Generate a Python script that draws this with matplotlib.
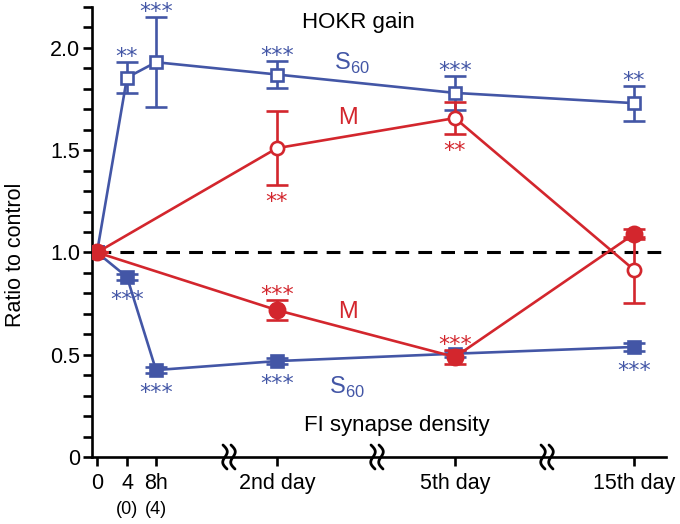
import numpy as np
import matplotlib
matplotlib.use("Agg")
import matplotlib.pyplot as plt

plt.rcParams['font.family'] = ['Liberation Sans', 'DejaVu Sans']

# ── data ────────────────────────────────────────────────────────────
tick_labels = ["0", "4", "8h", "2nd day", "5th day", "15th day"]
sub_labels = ["", "(0)", "(4)", "", "", ""]
x_pos = [0, 30, 59, 180, 358, 537]          # compressed time axis
breaks = [132, 280, 450]

# HOKR gain (open markers)
s60_gain_idx = [0, 1, 2, 3, 4, 5]
s60_gain = [1.0, 1.855, 1.93, 1.87, 1.78, 1.73]
s60_gain_err = [0, 0.075, 0.22, 0.065, 0.083, 0.085]
s60_gain_sig = ["", "**", "***", "***", "***", "**"]

m_gain_idx = [0, 3, 4, 5]
m_gain = [1.0, 1.51, 1.657, 0.915]
m_gain_err = [0, 0.18, 0.08, 0.16]
m_gain_sig = ["", "**", "**", ""]

# FI synapse density (filled markers)
s60_fi_idx = [0, 1, 2, 3, 4, 5]
s60_fi = [1.0, 0.88, 0.425, 0.469, 0.505, 0.538]
s60_fi_err = [0, 0.015, 0.015, 0.015, 0.015, 0.02]
s60_fi_sig = ["", "***", "***", "***", "", "***"]

m_fi_idx = [0, 3, 4, 5]
m_fi = [1.0, 0.718, 0.489, 1.09]
m_fi_err = [0, 0.05, 0.035, 0.025]
m_fi_sig = ["", "***", "***", ""]

BLUE = "#4356a6"
RED = "#d3262d"

fig = plt.figure(figsize=(6.8, 5.24), dpi=100)
ax = fig.add_axes([92 / 680, 67 / 524, 574 / 680, 450 / 524])


def series(idx, vals, errs, color, marker, ms, filled, z):
    xs = [x_pos[i] for i in idx]
    ax.errorbar(xs, vals, yerr=errs, color=color, lw=1.9, elinewidth=1.9,
                capsize=8, capthick=2.2, marker=marker, ms=ms,
                mfc=color if filled else "white", mec=color, mew=1.9,
                zorder=z)


def stars(idx, vals, errs, sig, color, above, gap):
    # asterisk ink centre sits ~13 px above the baseline at this size
    for i, v, e, s in zip(idx, vals, errs, sig):
        if not s:
            continue
        if above:
            y, off = v + e, gap - 13
        else:
            y, off = v - e, -gap - 13
        ax.annotate(s, (x_pos[i], y), xytext=(0, off / 1.389),
                    textcoords="offset points", ha="center", va="baseline",
                    color=color, fontsize=16, family="DejaVu Sans",
                    annotation_clip=False)


# reference line
ax.plot([0, 569], [1.0, 1.0], color="black", lw=2.2, ls=(0, (4.5, 3)),
        zorder=1)

series(s60_gain_idx, s60_gain, s60_gain_err, BLUE, "s", 8.5, False, 3)
series(s60_fi_idx, s60_fi, s60_fi_err, BLUE, "s", 9, True, 3)
series(m_gain_idx, m_gain, m_gain_err, RED, "o", 9.5, False, 4)
series(m_fi_idx, m_fi, m_fi_err, RED, "o", 11, True, 4)

stars(s60_gain_idx, s60_gain, s60_gain_err, s60_gain_sig, BLUE, True, 12)
stars(m_gain_idx, m_gain, m_gain_err, m_gain_sig, RED, False, 10)
stars(s60_fi_idx, s60_fi, s60_fi_err, s60_fi_sig, BLUE, False, 13)
stars(m_fi_idx, m_fi, m_fi_err, m_fi_sig, RED, True, 12)

# series labels
ax.text(261, 2.126, "HOKR gain", fontsize=16, ha="center", va="center")
ax.text(300, 0.156, "FI synapse density", fontsize=16, ha="center",
        va="center")
ax.text(255, 1.925, r"S$_{\mathregular{60}}$", fontsize=17, color=BLUE,
        ha="center", va="center")
ax.text(250, 0.342, r"S$_{\mathregular{60}}$", fontsize=17, color=BLUE,
        ha="center", va="center")
ax.text(251, 1.657, "M", fontsize=17, color=RED, ha="center", va="center")
ax.text(251, 0.709, "M", fontsize=17, color=RED, ha="center", va="center")

# axes styling
ax.set_xlim(-5, 569)
ax.set_ylim(0, 2.2)
for side in ("top", "right"):
    ax.spines[side].set_visible(False)
for side in ("left", "bottom"):
    ax.spines[side].set_linewidth(1.9)

ax.set_yticks([0, 0.5, 1.0, 1.5, 2.0])
ax.set_yticklabels(["0", "0.5", "1.0", "1.5", "2.0"])
ax.set_yticks(np.arange(0, 2.21, 0.1), minor=True)
ax.tick_params(axis="y", which="both", length=6.5, width=1.9,
               labelsize=15.5, pad=2)
ax.set_xticks(x_pos)
ax.set_xticklabels(tick_labels)
ax.tick_params(axis="x", length=6.5, width=1.9, labelsize=15.5, pad=5)
ax.set_ylabel("Ratio to control", fontsize=15.5, labelpad=8)
ax.yaxis.set_label_coords(-0.115, 0.45)

for x, s in zip(x_pos, sub_labels):
    if s:
        ax.annotate(s, (x, 0), xytext=(0, -32), textcoords="offset points",
                    ha="center", va="top", fontsize=13,
                    annotation_clip=False)

# axis break squiggles
t = np.linspace(-1, 1, 80)
for xb in breaks:
    for dx in (-4, 4):
        ax.plot(xb + dx - 3.2 * np.sin(np.pi * t) + 2 * t,
                -t * 12 / 204.6, color="black", lw=2.0,
                clip_on=False, zorder=5, solid_capstyle="round")

fig.savefig("out.png", dpi=100)
